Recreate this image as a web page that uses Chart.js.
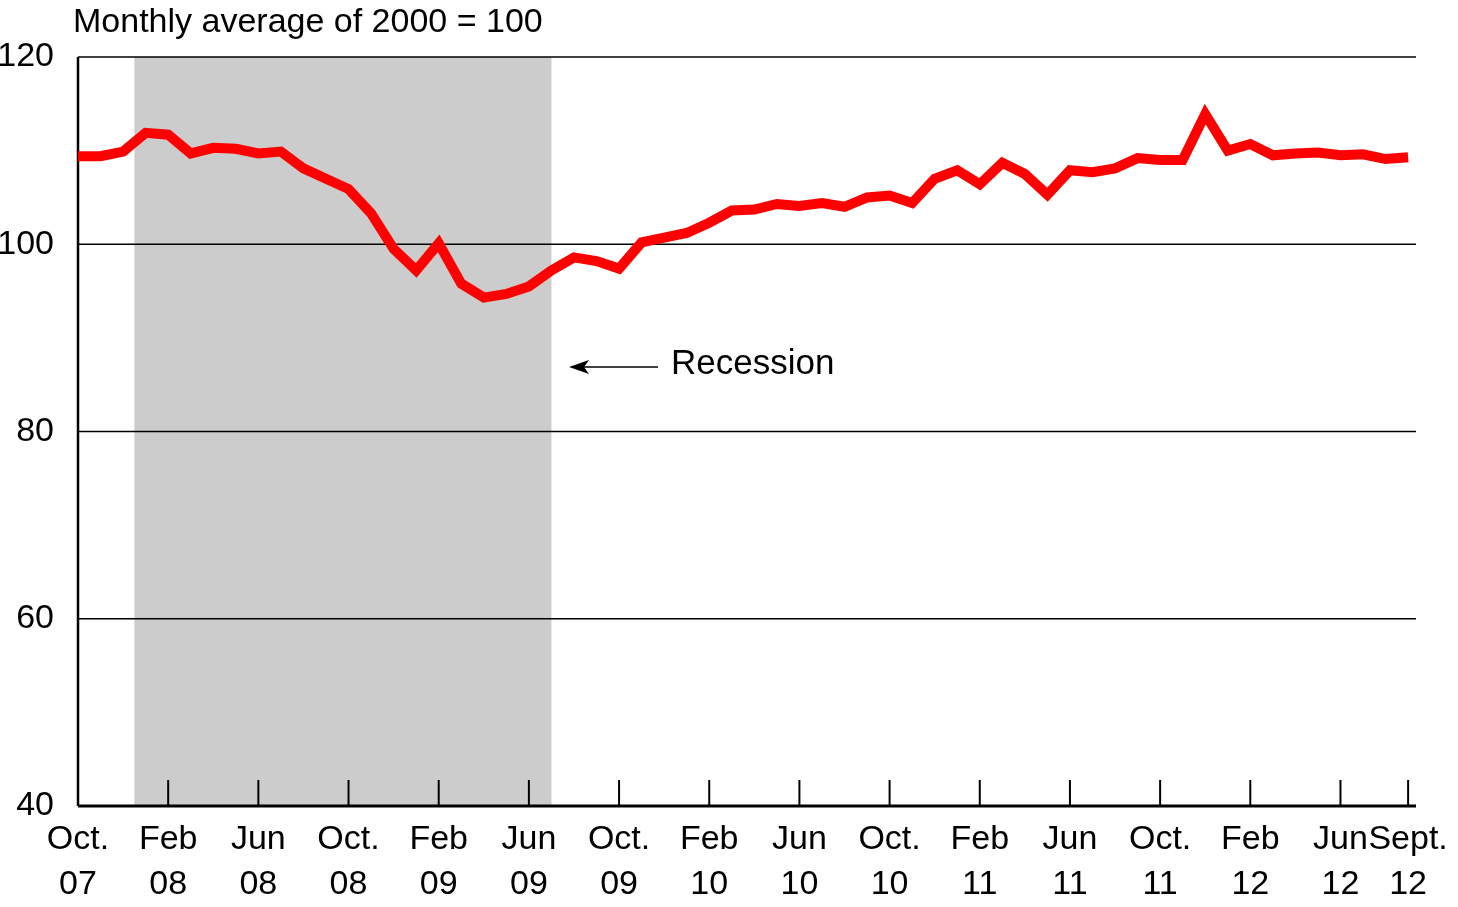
<!DOCTYPE html>
<html><head><meta charset="utf-8">
<script src="https://cdn.jsdelivr.net/npm/chart.js@4"></script>
<style>html,body{margin:0;padding:0;background:#fff}#w{width:1458px;height:907px}</style>
</head><body><div id="w"><canvas id="c"></canvas></div>
<script>
const values=[109.4,109.4,109.9,111.9,111.7,109.7,110.3,110.2,109.7,109.9,108.1,107.0,105.9,103.3,99.5,97.2,100.1,95.8,94.3,94.7,95.5,97.2,98.6,98.2,97.4,100.2,100.7,101.2,102.3,103.6,103.7,104.3,104.1,104.4,104.0,105.0,105.2,104.4,107.0,107.9,106.4,108.7,107.5,105.3,107.9,107.7,108.1,109.2,109.0,109.0,113.9,110.0,110.7,109.5,109.7,109.8,109.5,109.6,109.1,109.3];
const tickIdx=[0,4,8,12,16,20,24,28,32,36,40,44,48,52,56,59];
const tickLabels=[["Oct.","07"],["Feb","08"],["Jun","08"],["Oct.","08"],["Feb","09"],["Jun","09"],["Oct.","09"],["Feb","10"],["Jun","10"],["Oct.","10"],["Feb","11"],["Jun","11"],["Oct.","11"],["Feb","12"],["Jun","12"],["Sept.","12"]];
const recession=[2.5,21];
const yTicks=[40,60,80,100,120];
const F='"Liberation Sans", Arial, sans-serif';
const deco={id:'deco',
 beforeDatasetsDraw(ch){const {ctx,scales:{x,y},chartArea:a}=ch;ctx.save();
  ctx.fillStyle='#cccccc';const x0=x.getPixelForValue(recession[0]),x1=x.getPixelForValue(recession[1]);
  ctx.fillRect(x0,a.top,x1-x0,a.bottom-a.top);
  ctx.strokeStyle='#000';ctx.lineWidth=1.5;
  [60,80,100,120].forEach(v=>{const p=y.getPixelForValue(v);ctx.beginPath();ctx.moveTo(a.left,p);ctx.lineTo(a.right,p);ctx.stroke();});
  ctx.lineWidth=2.5;ctx.beginPath();ctx.moveTo(a.left,a.top);ctx.lineTo(a.left,a.bottom);ctx.stroke();
  ctx.lineWidth=3;ctx.beginPath();ctx.moveTo(a.left,a.bottom);ctx.lineTo(a.right,a.bottom);ctx.stroke();
  ctx.lineWidth=2;tickIdx.forEach(i=>{const p=x.getPixelForValue(i);ctx.beginPath();ctx.moveTo(p,a.bottom);ctx.lineTo(p,a.bottom-26);ctx.stroke();});
  ctx.fillStyle='#000';ctx.font='34px '+F;ctx.textBaseline='alphabetic';
  ctx.fillText('Monthly average of 2000 = 100',73,32);
  ctx.font='35px '+F;ctx.textBaseline='middle';ctx.fillText('Recession',671,364);
  ctx.lineWidth=1.5;ctx.beginPath();ctx.moveTo(572,367);ctx.lineTo(658,367);ctx.stroke();
  ctx.beginPath();ctx.moveTo(569,367);ctx.lineTo(589,360);ctx.lineTo(584,367);ctx.lineTo(589,374);ctx.closePath();ctx.fill();
  ctx.restore();}};
new Chart(document.getElementById('c'),{type:'line',
 data:{datasets:[{data:values.map((v,i)=>({x:i,y:v})),borderColor:'#ff0000',borderWidth:10,pointRadius:0,tension:0,borderJoinStyle:'miter'}]},
 options:{responsive:true,maintainAspectRatio:false,animation:false,
  layout:{padding:{top:57,right:42,left:0,bottom:0}},
  plugins:{legend:{display:false},tooltip:{enabled:false}},
  scales:{
   x:{type:'linear',min:0,max:59.35,grid:{display:false},border:{display:false},
     afterBuildTicks(s){s.ticks=tickIdx.map(v=>({value:v}));},
     afterFit(s){s.height=101;},
     ticks:{autoSkip:false,maxRotation:0,padding:4,color:'#000',font:{size:34,family:F,lineHeight:1.3},
       callback:(v)=>tickLabels[tickIdx.indexOf(v)]}},
   y:{min:40,max:120,grid:{display:false},border:{display:false},
     afterBuildTicks(s){s.ticks=yTicks.map(v=>({value:v}));},
     afterFit(s){s.width=78;},
     ticks:{padding:16,color:'#000',font:{size:34,family:F}}}}},
 plugins:[deco]});
</script></body></html>
